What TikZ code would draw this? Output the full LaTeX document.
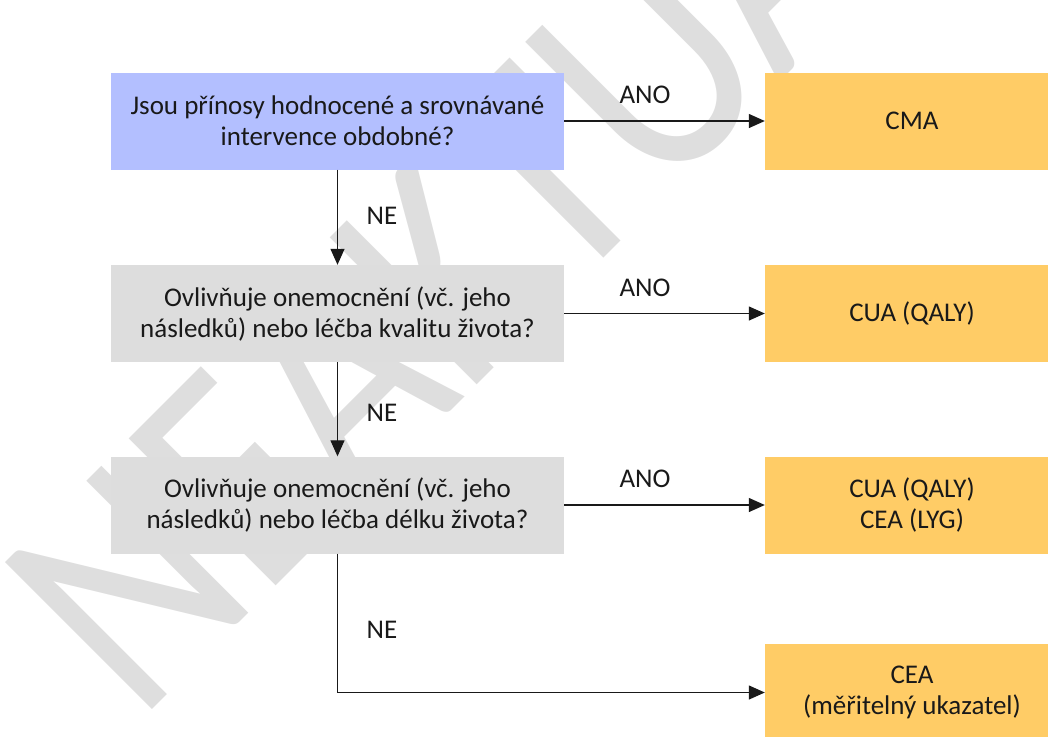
\documentclass[tikz,border=0pt]{standalone}
\usepackage{fontspec}
\setmainfont{Carlito}
\usetikzlibrary{arrows.meta}

\definecolor{qblue}{RGB}{179,191,255}
\definecolor{qgray}{RGB}{221,221,221}
\definecolor{qorange}{RGB}{255,204,102}
\definecolor{wmgray}{RGB}{222,222,222}
\definecolor{ink}{RGB}{25,25,25}

\tikzset{
  question/.style={rectangle,inner sep=0pt,minimum width=453pt,minimum height=97pt,
    align=center,text=ink,font=\fontsize{27}{31}\selectfont},
  answer/.style={rectangle,inner sep=0pt,minimum width=294pt,minimum height=97pt,
    align=center,text=ink,fill=qorange,font=\fontsize{27}{31}\selectfont},
  lbl/.style={text=ink,font=\fontsize{27}{31}\selectfont},
  flow/.style={ink,line width=1.3pt,-{Triangle[length=16pt,width=14pt]}}
}

\begin{document}
\begin{tikzpicture}[x=1pt,y=-1pt]
    \useasboundingbox (0,0) rectangle (1048,736);
    \node[text=wmgray,rotate=45,anchor=base west,inner sep=0pt] (wm) at (138,724)
      {\scalebox{0.84}[1]{\fontsize{324}{324}\selectfont NEAKTUÁLNÍ}};
    \node[question,fill=qblue] (q1) at (337.5,121) {Jsou přínosy hodnocené a srovnávané\\intervence obdobné?};
    \node[question,fill=qgray] (q2) at (337.5,313.5) {Ovlivňuje onemocnění (vč. jeho\\následků) nebo léčba kvalitu života?};
    \node[question,fill=qgray] (q3) at (337.5,505) {Ovlivňuje onemocnění (vč. jeho\\následků) nebo léčba délku života?};
    \node[answer] (a1) at (912,121) {CMA};
    \node[answer] (a2) at (912,313.5) {CUA (QALY)};
    \node[answer] (a3) at (912,505) {CUA (QALY)\\CEA (LYG)};
    \node[answer] (a4) at (912,692.5) {CEA\\(měřitelný ukazatel)};
    \node[lbl] (ano1) at (645,95) {ANO};
    \node[lbl] (ano2) at (645,288) {ANO};
    \node[lbl] (ano3) at (645,479) {ANO};
    \node[lbl] (ne1) at (382,215.5) {NE};
    \node[lbl] (ne2) at (382,413) {NE};
    \node[lbl] (ne3) at (382,629.5) {NE};
    \path[flow] (q1) edge (a1);
    \path[flow] (q2) edge (a2);
    \path[flow] (q3) edge (a3);
    \path[flow] (q1) edge (q2);
    \path[flow] (q2) edge (q3);
    \draw[flow] (q3.south) |- (a4.west);
\end{tikzpicture}
\end{document}
